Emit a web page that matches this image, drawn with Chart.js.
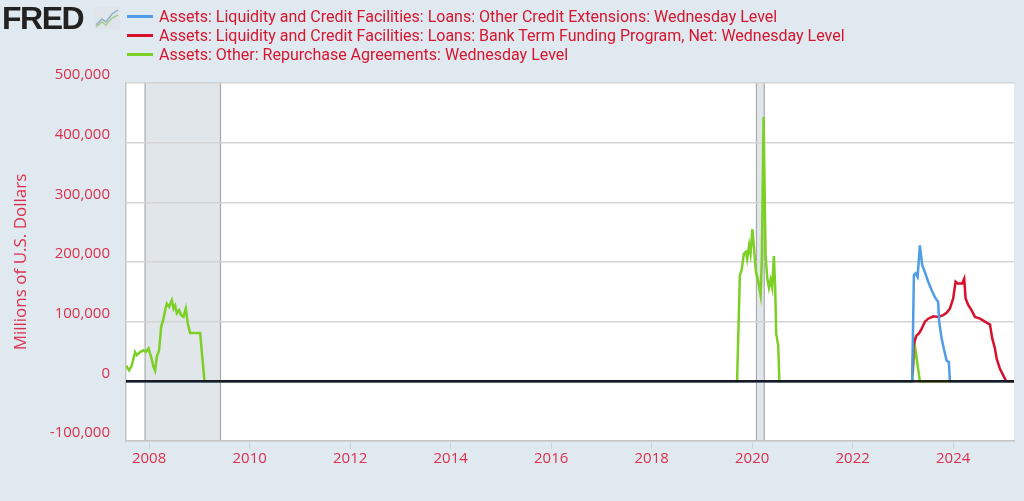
<!DOCTYPE html>
<html>
<head>
<meta charset="utf-8">
<script src="https://cdn.jsdelivr.net/npm/chart.js@4.4.1/dist/chart.umd.min.js"></script>
<style>
  html, body { margin: 0; padding: 0; background: #e1e9f0; }
  #wrap { position: relative; width: 1024px; height: 501px; }
  #logo { position: absolute; left: 2px; top: 0px; font: bold 32px "Liberation Sans", Arial, sans-serif; letter-spacing: -1.5px; color: #222; }
  #logo svg { position: absolute; left: 92px; top: 7px; }
  #legend { position: absolute; left: 127px; top: 7px; font: 16px Roboto, sans-serif; color: #d6152f; }
  .item { height: 19px; line-height: 19px; white-space: nowrap; }
  .swatch { display: inline-block; width: 26px; height: 3px; vertical-align: middle; margin-right: 6px; position: relative; top: -1px; }
</style>
</head>
<body>
<div id="wrap">
  <div id="logo">FRED<svg width="26" height="22" viewBox="0 0 26 22">
    <rect x="0" y="0" width="26" height="22" fill="#dfe5ea"/>
    <polyline points="2,18 8,12 12,15 18,7 24,3" fill="none" stroke="#8fb0c8" stroke-width="1.5"/>
    <polyline points="2,20 8,15 12,18 18,11 24,8" fill="none" stroke="#a9c98a" stroke-width="1.5"/>
  </svg></div>
  <div id="legend"></div>
  <canvas id="myChart"></canvas>
</div>
<script>
// series labels and colours
const seriesNames = [
  "Assets: Liquidity and Credit Facilities: Loans: Other Credit Extensions: Wednesday Level",
  "Assets: Liquidity and Credit Facilities: Loans: Bank Term Funding Program, Net: Wednesday Level",
  "Assets: Other: Repurchase Agreements: Wednesday Level"
];
const seriesColors = ["#4f9de6", "#d7102b", "#7ccf24"];

// Other Credit Extensions (millions of dollars), x in decimal years
const otherCreditYears = [2007.54, 2023.184, 2023.218, 2023.252, 2023.292, 2023.337, 2023.383, 2023.437,
  2023.503, 2023.57, 2023.636, 2023.701, 2023.721, 2023.769, 2023.821, 2023.869, 2023.914, 2023.934, 2025.21];
const otherCreditValues = [0, 0, 178000, 181000, 175000, 228000, 195000, 183000,
  167000, 153000, 141000, 133000, 100000, 72000, 52000, 35000, 32000, 0, 0];

// Bank Term Funding Program
const btfpYears = [2023.19, 2023.21, 2023.235, 2023.272, 2023.317, 2023.371, 2023.437, 2023.503, 2023.602,
  2023.701, 2023.801, 2023.869, 2023.934, 2024.0, 2024.048, 2024.088, 2024.133, 2024.179, 2024.219, 2024.247,
  2024.299, 2024.367, 2024.433, 2024.533, 2024.632, 2024.732, 2024.777, 2024.831, 2024.865, 2024.93,
  2024.996, 2025.044, 2025.07, 2025.21];
const btfpValues = [12000, 60000, 68000, 77000, 80000, 88000, 100000, 105000, 109000,
  108000, 111000, 115000, 122000, 139000, 167000, 164000, 164000, 164000, 172000, 139000,
  128000, 119000, 108000, 105000, 100000, 95000, 72000, 55000, 38000, 21000,
  10000, 2000, 0, 0];

// Repurchase Agreements
const repoYears = [2007.54, 2007.556, 2007.602, 2007.656, 2007.721, 2007.755, 2007.821, 2007.889, 2007.934,
  2007.988, 2008.04, 2008.088, 2008.119, 2008.153, 2008.199, 2008.239, 2008.287, 2008.318, 2008.352,
  2008.398, 2008.452, 2008.486, 2008.517, 2008.551, 2008.597, 2008.637, 2008.685, 2008.73, 2008.77,
  2008.816, 2009.015, 2009.102,
  2019.70, 2019.755, 2019.789, 2019.835, 2019.874, 2019.90, 2019.94, 2019.968, 2020.004, 2020.034,
  2020.074, 2020.119, 2020.167, 2020.193, 2020.227, 2020.267, 2020.299, 2020.333, 2020.366, 2020.398,
  2020.432, 2020.458, 2020.478, 2020.518, 2020.541,
  2023.184, 2023.238, 2023.337, 2025.21];
const repoValues = [26000, 24000, 18500, 27000, 49000, 44000, 49000, 52000, 49000,
  55000, 41000, 24000, 18000, 41000, 52000, 91000, 105000, 119000, 130000,
  125000, 136000, 122000, 127000, 114000, 119000, 111000, 108000, 122000, 97000,
  81000, 81000, 0,
  0, 178000, 186000, 214000, 217000, 205000, 228000, 214000, 255000, 226000,
  184000, 168000, 145000, 206000, 443000, 210000, 174000, 157000, 170000, 157000,
  210000, 158000, 80000, 60000, 0,
  0, 60000, 0, 0];

// recessions (shaded)
const recessionStarts = [2007.92, 2020.085];
const recessionEnds = [2009.42, 2020.24];

// axis ticks
const xMin = 2007.54, xMax = 2025.21;
const yTicks = [-100000, 0, 100000, 200000, 300000, 400000, 500000];

const toPoints = (xs, ys) => xs.map((x, i) => ({ x: x, y: ys[i] }));
const seriesData = [
  toPoints(otherCreditYears, otherCreditValues),
  toPoints(btfpYears, btfpValues),
  toPoints(repoYears, repoValues)
];

// html legend
const legendEl = document.getElementById("legend");
seriesNames.forEach((name, i) => {
  const row = document.createElement("div");
  row.className = "item";
  row.innerHTML = '<span class="swatch" style="background:' + seriesColors[i] + '"></span>' + name;
  legendEl.appendChild(row);
});

const backdrop = {
  id: "backdrop",
  beforeDraw(chart) {
    const { ctx, chartArea: a, scales } = chart;
    ctx.save();
    ctx.fillStyle = "#ffffff";
    ctx.fillRect(a.left, a.top, a.right - a.left, a.bottom - a.top);
    recessionStarts.forEach((s, i) => {
      const x1 = scales.x.getPixelForValue(s);
      const x2 = scales.x.getPixelForValue(recessionEnds[i]);
      ctx.fillStyle = "#e1e6ea";
      ctx.fillRect(x1, a.top, x2 - x1, a.bottom - a.top);
      ctx.strokeStyle = "#a9a9a9";
      ctx.lineWidth = 1.2;
      ctx.beginPath();
      ctx.moveTo(x1, a.top); ctx.lineTo(x1, a.bottom);
      ctx.moveTo(x2, a.top); ctx.lineTo(x2, a.bottom);
      ctx.stroke();
    });
    ctx.restore();
  },
  afterDatasetsDraw(chart) {
    const { ctx, chartArea: a, scales } = chart;
    const y0 = scales.y.getPixelForValue(0);
    ctx.save();
    ctx.strokeStyle = "rgba(20,12,14,0.9)";
    ctx.lineWidth = 2.5;
    ctx.beginPath();
    ctx.moveTo(a.left, y0);
    ctx.lineTo(a.right, y0);
    ctx.stroke();
    ctx.restore();
  }
};

const ctx = document.getElementById("myChart").getContext("2d");
const myChart = new Chart(ctx, {
  type: "line",
  data: {
    datasets: seriesData.map((d, i) => ({
      label: seriesNames[i],
      data: d,
      borderColor: seriesColors[i],
      backgroundColor: seriesColors[i],
      borderWidth: 2.5,
      pointRadius: 0,
      tension: 0,
      fill: false
    }))
  },
  options: {
    responsive: true,
    maintainAspectRatio: false,
    animation: false,
    layout: { padding: { left: 0, right: 10, top: 83, bottom: 0 } },
    plugins: { legend: { display: false }, tooltip: { enabled: false } },
    scales: {
      x: {
        type: "linear",
        min: xMin,
        max: xMax,
        afterFit: (s) => { s.height = 60; },
        grid: { drawOnChartArea: false, color: "#c9d5e0", tickLength: 8 },
        border: { color: "#c4c4c4", width: 1.5 },
        ticks: {
          stepSize: 2,
          includeBounds: false,
          padding: 1,
          color: "#dc2f4b",
          font: { family: "'Open Sans'", size: 15 },
          maxRotation: 0,
          callback: (v) => String(v)
        }
      },
      y: {
        min: yTicks[0],
        max: yTicks[yTicks.length - 1],
        afterFit: (s) => { s.width = 126; },
        afterBuildTicks: (s) => { s.ticks = yTicks.map(v => ({ value: v })); },
        grid: { color: "#d4d4d4", lineWidth: 1.5, drawTicks: false },
        border: { color: "#c4c4c4", width: 1.5 },
        title: {
          display: true,
          text: "Millions of U.S. Dollars",
          color: "#dc2f4b",
          font: { family: "'Open Sans'", size: 17 },
          padding: { top: 11, bottom: 0 }
        },
        ticks: {
          padding: 16,
          labelOffset: -8,
          color: "#dc2f4b",
          font: { family: "'Open Sans'", size: 15 },
          callback: (v) => v.toLocaleString("en-US")
        }
      }
    }
  },
  plugins: [backdrop]
});
</script>
</body>
</html>
